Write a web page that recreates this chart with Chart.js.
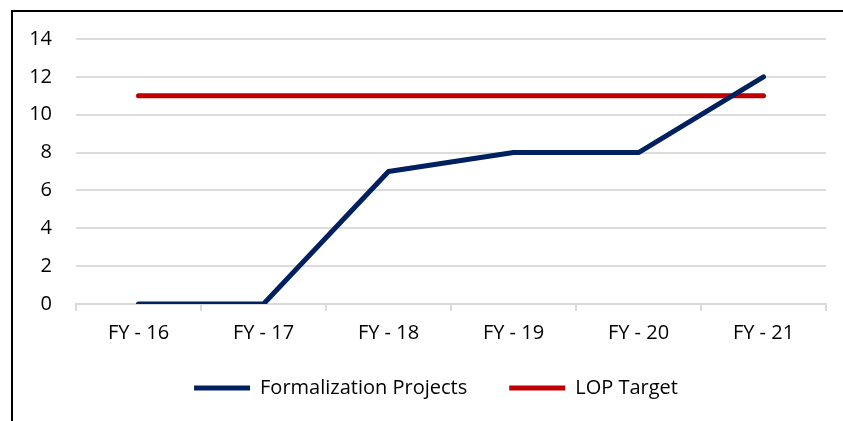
<!DOCTYPE html>
<html>
<head>
<meta charset="utf-8">
<script src="https://cdn.jsdelivr.net/npm/chart.js@4"></script>
<style>
  html, body { margin: 0; padding: 0; background: #fff; }
  #wrap { position: relative; width: 843px; height: 421px; overflow: hidden; }
  #frame { position: absolute; left: 11px; top: 10px; width: 900px; height: 500px;
           border-left: 2px solid #000; border-top: 2px solid #000; box-sizing: border-box; }
  canvas { position: absolute; left: 0; top: 0; }
</style>
</head>
<body>
<div id="wrap">
  <div id="frame"></div>
  <canvas id="projChart" width="843" height="421"></canvas>
</div>
<script>
// chart data
const years = ['FY - 16', 'FY - 17', 'FY - 18', 'FY - 19', 'FY - 20', 'FY - 21'];
const formalizationProjects = [0, 0, 7, 8, 8, 12];
const lopTarget = [11, 11, 11, 11, 11, 11];
const yTicks = [0, 2, 4, 6, 8, 10, 12, 14];

const fontFamily = '"Open Sans", Lato, sans-serif';

const ctx = document.getElementById('projChart').getContext('2d');
const projChart = new Chart(ctx, {
  type: 'line',
  data: {
    labels: years,
    datasets: [
      {
        label: 'Formalization Projects',
        data: formalizationProjects,
        borderColor: '#002060',
        backgroundColor: '#002060',
        borderWidth: 5,
        borderCapStyle: 'round',
        borderJoinStyle: 'round',
        pointRadius: 0,
        pointStyle: 'line',
        tension: 0
      },
      {
        label: 'LOP Target',
        data: lopTarget,
        borderColor: '#C00000',
        backgroundColor: '#C00000',
        borderWidth: 5,
        borderCapStyle: 'round',
        pointRadius: 0,
        pointStyle: 'line',
        tension: 0
      }
    ]
  },
  options: {
    responsive: false,
    animation: false,
    layout: { padding: { left: 0, top: 39, right: 17, bottom: 13 } },
    plugins: {
      tooltip: { enabled: false },
      legend: {
        position: 'bottom',
        fullSize: false,
        labels: {
          usePointStyle: true,
          pointStyleWidth: 56,
          boxHeight: 20,
          color: '#000',
          padding: 12,
          font: { family: fontFamily, size: 20 },
          // wider gap between items, like the original
          generateLabels: (chart) => {
            const items = Chart.defaults.plugins.legend.labels.generateLabels(chart);
            items.forEach(it => { it.text = it.text + '\u2002\u2002\u2002'; });
            return items;
          }
        }
      }
    },
    scales: {
      x: {
        offset: true,
        grid: { display: true, offset: true, drawOnChartArea: false, drawTicks: true, tickLength: 7, color: '#d9d9d9', lineWidth: 2 },
        border: { display: true, color: '#d9d9d9', width: 2 },
        ticks: { color: '#000', padding: 10, font: { family: fontFamily, size: 20 } },
        afterFit: (axis) => { axis.height = 62; }
      },
      y: {
        min: 0,
        max: 14,
        afterBuildTicks: (axis) => { axis.ticks = yTicks.map(v => ({ value: v })); },
        grid: { color: '#dcdcdc', lineWidth: 2, drawTicks: false },
        border: { display: false },
        ticks: { color: '#000', padding: 24, font: { family: fontFamily, size: 20 } },
        afterFit: (axis) => { axis.width = 76; }
      }
    }
  }
});
</script>
</body>
</html>
